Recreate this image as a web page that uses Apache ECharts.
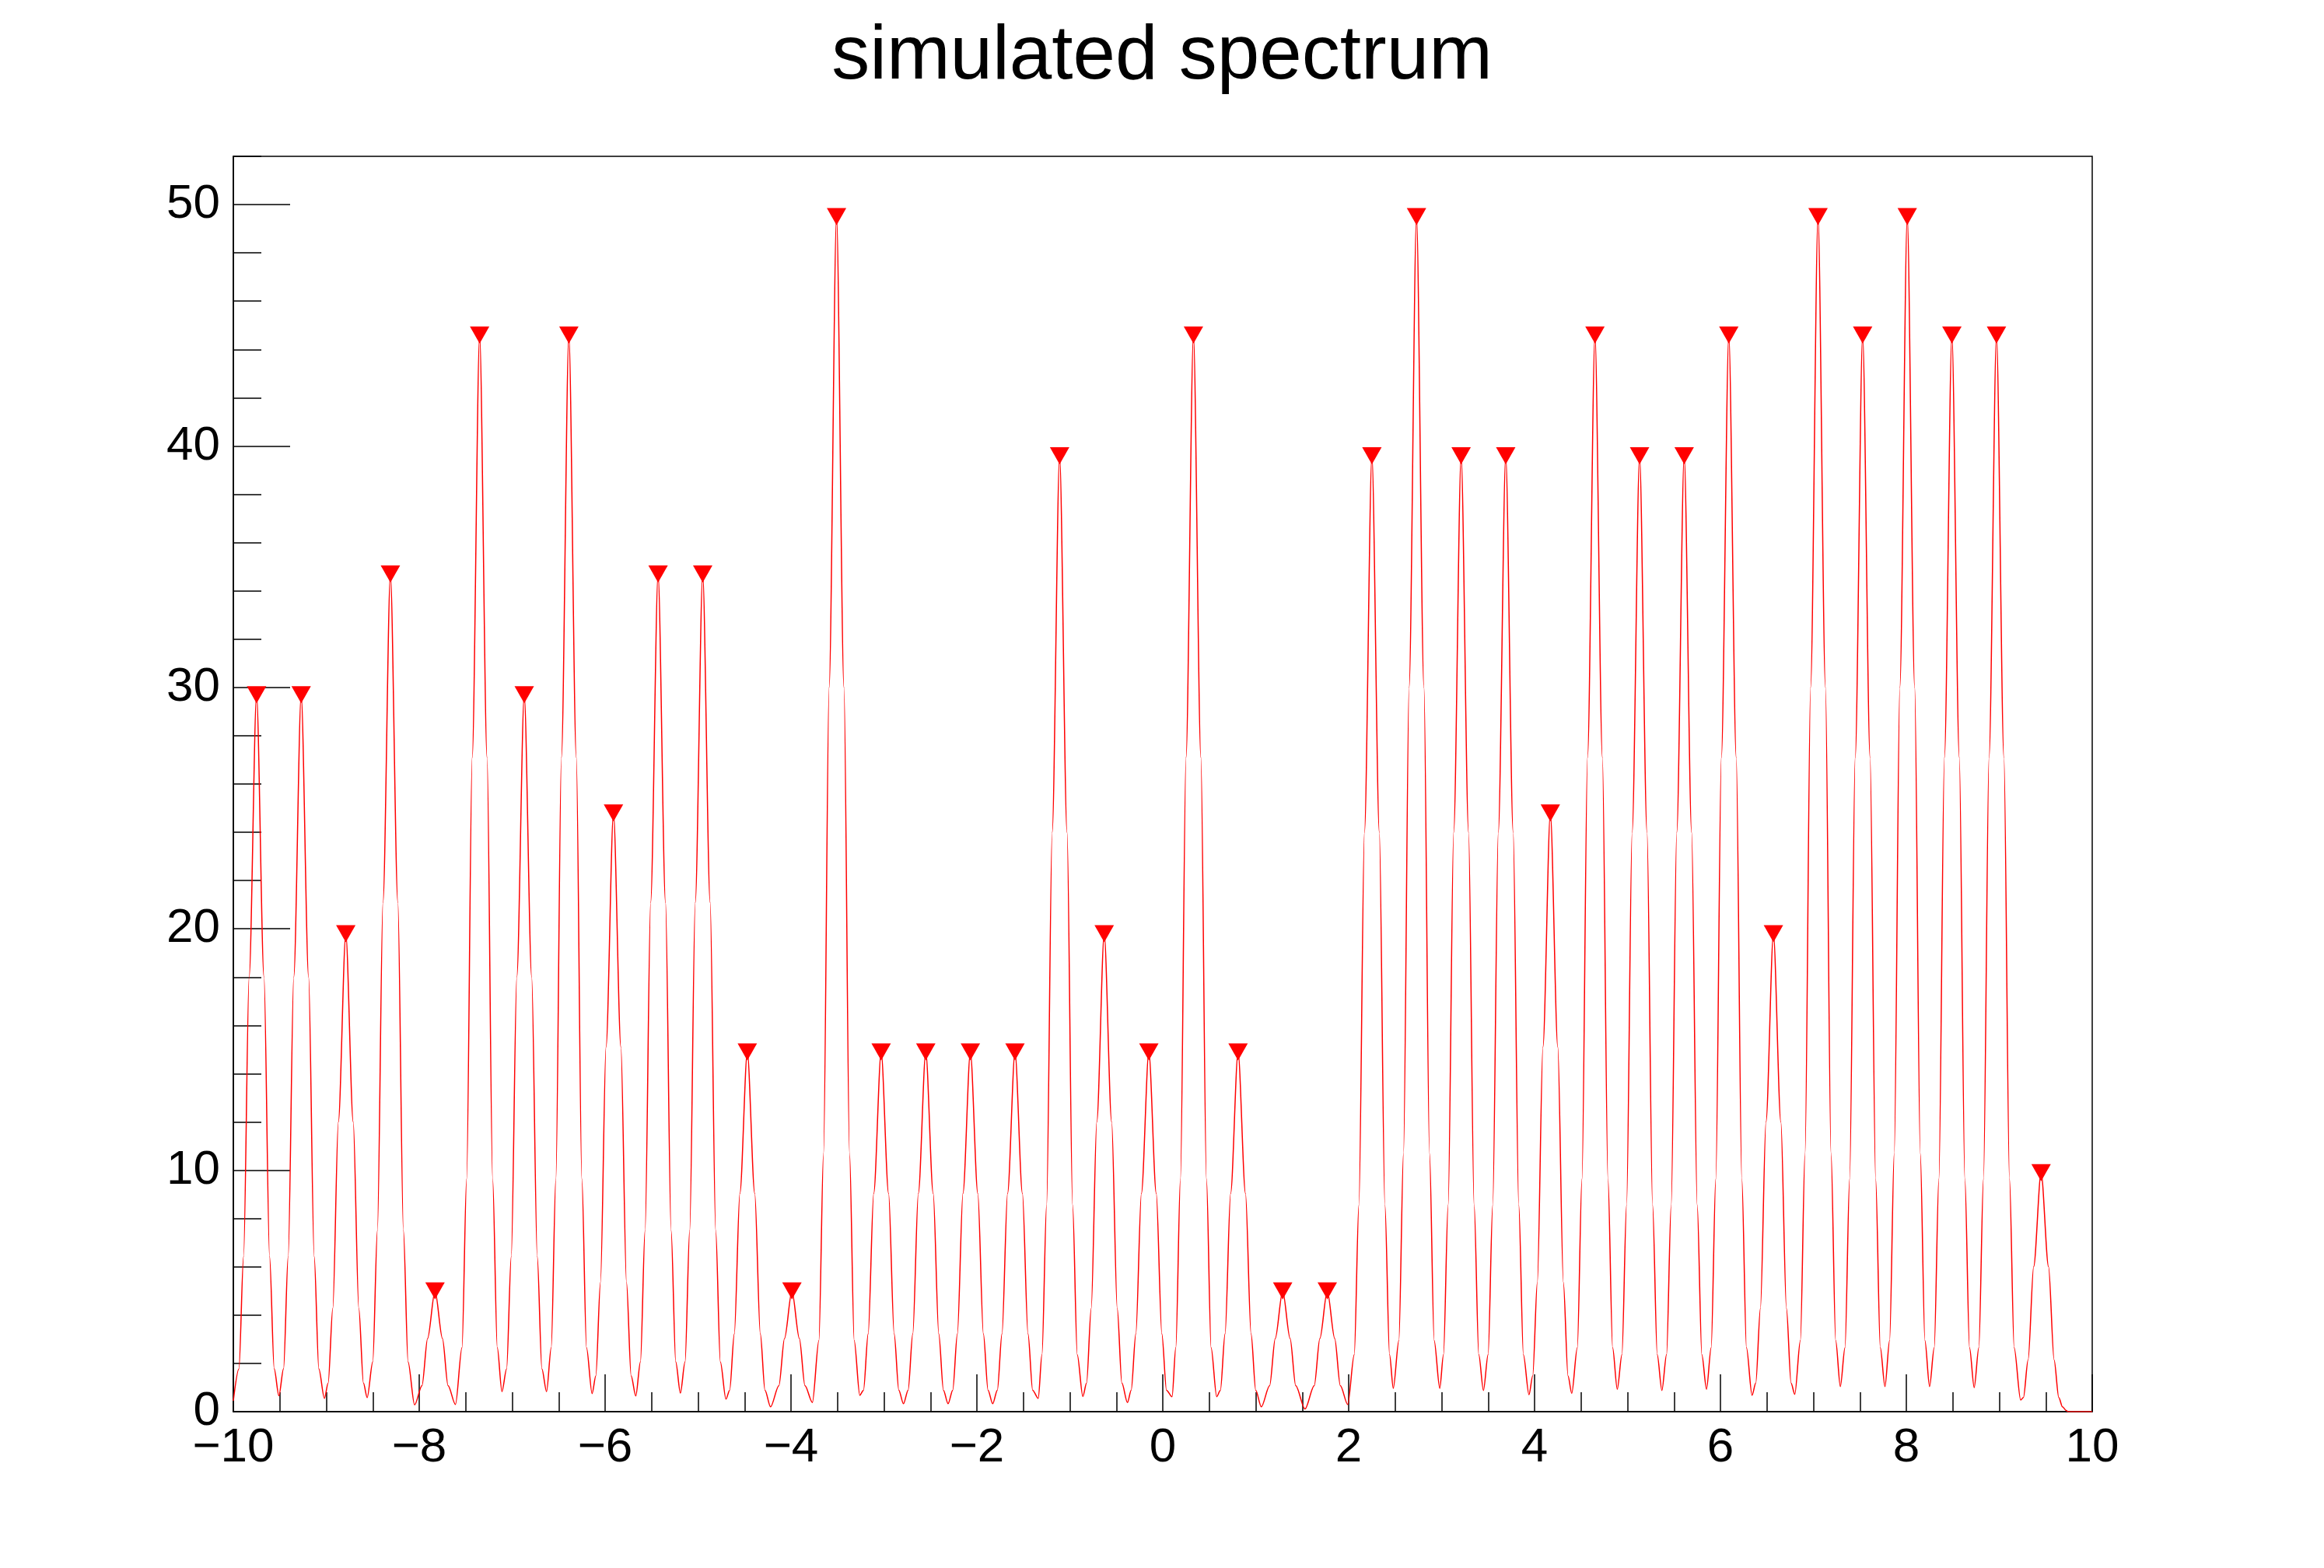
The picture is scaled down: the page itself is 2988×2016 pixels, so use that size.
<!DOCTYPE html>
<html>
<head>
<meta charset="utf-8">
<title>simulated spectrum</title>
<script src="https://cdn.jsdelivr.net/npm/echarts@6.0.0/dist/echarts.min.js"></script>
<style>
  html, body { margin: 0; padding: 0; background: #fff; }
  #chart { width: 2988px; height: 2016px; }
</style>
</head>
<body>
<div id="chart"></div>
<script>
const titleText = 'simulated spectrum'

// axis ranges (ROOT style: y max = 1.05 * highest bin)
const xRange = [-10, 10]
const yRange = [0, 52]
const xMajor = 2
const xMinor = 0.5
const yMajor = 10
const yMinor = 2

// peak positions found by the search (red markers)
const peakX = [
  -9.75, -9.27, -8.79, -8.31, -7.83, -7.35, -6.87, -6.39, -5.91, -5.43,
  -4.95, -4.47, -3.99, -3.51, -3.03, -2.55, -2.07, -1.59, -1.11, -0.63,
  -0.15, 0.33, 0.81, 1.29, 1.77, 2.25, 2.73, 3.21, 3.69, 4.17,
  4.65, 5.13, 5.61, 6.09, 6.57, 7.05, 7.53, 8.01, 8.49, 8.97, 9.45
]
const peakY = [
  29.7, 29.7, 19.8, 34.7, 5.0, 44.6, 29.7, 44.6, 24.8, 34.7,
  34.7, 14.9, 5.0, 49.5, 14.9, 14.9, 14.9, 14.9, 39.6, 19.8,
  14.9, 44.6, 14.9, 5.0, 5.0, 39.6, 49.5, 39.6, 39.6, 24.8,
  44.6, 39.6, 39.6, 44.6, 19.8, 49.5, 44.6, 49.5, 44.6, 44.6, 9.9
]

// spectrum curve vertices [x, counts]
const spectrum = [
  [-10.00, 0.45],
  [-9.94, 1.77], [-9.89, 6.42], [-9.83, 18.0], [-9.75, 29.7], [-9.67, 18.0], [-9.61, 6.42], [-9.56, 1.77], [-9.51, 0.66],
  [-9.46, 1.77], [-9.41, 6.42], [-9.35, 18.0], [-9.27, 29.7], [-9.19, 18.0], [-9.13, 6.42], [-9.08, 1.77], [-9.02, 0.55],
  [-8.98, 1.18], [-8.93, 4.28], [-8.87, 12.0], [-8.79, 19.8], [-8.71, 12.0], [-8.65, 4.28], [-8.60, 1.18], [-8.56, 0.58],
  [-8.50, 2.06], [-8.45, 7.50], [-8.39, 21.1], [-8.31, 34.7], [-8.23, 21.1], [-8.17, 7.50], [-8.12, 2.06], [-8.05, 0.28],
  [-7.97, 1.08], [-7.91, 3.03], [-7.83, 5.0], [-7.75, 3.03], [-7.69, 1.08], [-7.61, 0.30],
  [-7.54, 2.65], [-7.49, 9.63], [-7.43, 27.1], [-7.35, 44.6], [-7.27, 27.1], [-7.21, 9.63], [-7.16, 2.65], [-7.11, 0.83],
  [-7.06, 1.77], [-7.01, 6.42], [-6.95, 18.0], [-6.87, 29.7], [-6.79, 18.0], [-6.73, 6.42], [-6.68, 1.77], [-6.63, 0.83],
  [-6.58, 2.65], [-6.53, 9.63], [-6.47, 27.1], [-6.39, 44.6], [-6.31, 27.1], [-6.25, 9.63], [-6.20, 2.65], [-6.14, 0.75],
  [-6.10, 1.48], [-6.05, 5.36], [-5.99, 15.1], [-5.91, 24.8], [-5.83, 15.1], [-5.77, 5.36], [-5.72, 1.48], [-5.67, 0.65],
  [-5.62, 2.06], [-5.57, 7.50], [-5.51, 21.1], [-5.43, 34.7], [-5.35, 21.1], [-5.29, 7.50], [-5.24, 2.06], [-5.19, 0.77],
  [-5.14, 2.06], [-5.09, 7.50], [-5.03, 21.1], [-4.95, 34.7], [-4.87, 21.1], [-4.81, 7.50], [-4.76, 2.06], [-4.70, 0.52],
  [-4.66, 0.89], [-4.61, 3.22], [-4.55, 9.04], [-4.47, 14.9], [-4.39, 9.04], [-4.33, 3.22], [-4.28, 0.89], [-4.22, 0.20],
  [-4.13, 1.08], [-4.07, 3.03], [-3.99, 5.0], [-3.91, 3.03], [-3.85, 1.08], [-3.77, 0.38],
  [-3.70, 2.95], [-3.65, 10.7], [-3.59, 30.0], [-3.51, 49.5], [-3.43, 30.0], [-3.37, 10.7], [-3.32, 2.95], [-3.26, 0.68],
  [-3.22, 0.89], [-3.17, 3.22], [-3.11, 9.04], [-3.03, 14.9], [-2.95, 9.04], [-2.89, 3.22], [-2.84, 0.89], [-2.79, 0.33],
  [-2.74, 0.89], [-2.69, 3.22], [-2.63, 9.04], [-2.55, 14.9], [-2.47, 9.04], [-2.41, 3.22], [-2.36, 0.89], [-2.31, 0.33],
  [-2.26, 0.89], [-2.21, 3.22], [-2.15, 9.04], [-2.07, 14.9], [-1.99, 9.04], [-1.93, 3.22], [-1.88, 0.89], [-1.83, 0.33],
  [-1.78, 0.89], [-1.73, 3.22], [-1.67, 9.04], [-1.59, 14.9], [-1.51, 9.04], [-1.45, 3.22], [-1.40, 0.89], [-1.34, 0.55],
  [-1.30, 2.36], [-1.25, 8.55], [-1.19, 24.0], [-1.11, 39.6], [-1.03, 24.0], [-0.97, 8.55], [-0.92, 2.36], [-0.86, 0.63],
  [-0.82, 1.18], [-0.77, 4.28], [-0.71, 12.0], [-0.63, 19.8], [-0.55, 12.0], [-0.49, 4.28], [-0.44, 1.18], [-0.38, 0.38],
  [-0.34, 0.89], [-0.29, 3.22], [-0.23, 9.04], [-0.15, 14.9], [-0.07, 9.04], [-0.01, 3.22], [0.04, 0.89], [0.10, 0.62],
  [0.14, 2.65], [0.19, 9.63], [0.25, 27.1], [0.33, 44.6], [0.41, 27.1], [0.47, 9.63], [0.52, 2.65], [0.58, 0.62],
  [0.62, 0.89], [0.67, 3.22], [0.73, 9.04], [0.81, 14.9], [0.89, 9.04], [0.95, 3.22], [1.00, 0.89], [1.06, 0.20],
  [1.15, 1.08], [1.21, 3.03], [1.29, 5.0], [1.37, 3.03], [1.43, 1.08], [1.53, 0.11],
  [1.63, 1.08], [1.69, 3.03], [1.77, 5.0], [1.85, 3.03], [1.91, 1.08], [1.99, 0.30],
  [2.06, 2.36], [2.11, 8.55], [2.17, 24.0], [2.25, 39.6], [2.33, 24.0], [2.39, 8.55], [2.44, 2.36], [2.48, 0.97],
  [2.54, 2.95], [2.59, 10.7], [2.65, 30.0], [2.73, 49.5], [2.81, 30.0], [2.87, 10.7], [2.92, 2.95], [2.98, 0.97],
  [3.02, 2.36], [3.07, 8.55], [3.13, 24.0], [3.21, 39.6], [3.29, 24.0], [3.35, 8.55], [3.40, 2.36], [3.45, 0.88],
  [3.50, 2.36], [3.55, 8.55], [3.61, 24.0], [3.69, 39.6], [3.77, 24.0], [3.83, 8.55], [3.88, 2.36], [3.94, 0.70],
  [3.98, 1.48], [4.03, 5.36], [4.09, 15.1], [4.17, 24.8], [4.25, 15.1], [4.31, 5.36], [4.36, 1.48], [4.40, 0.76],
  [4.46, 2.65], [4.51, 9.63], [4.57, 27.1], [4.65, 44.6], [4.73, 27.1], [4.79, 9.63], [4.84, 2.65], [4.89, 0.93],
  [4.94, 2.36], [4.99, 8.55], [5.05, 24.0], [5.13, 39.6], [5.21, 24.0], [5.27, 8.55], [5.32, 2.36], [5.37, 0.88],
  [5.42, 2.36], [5.47, 8.55], [5.53, 24.0], [5.61, 39.6], [5.69, 24.0], [5.75, 8.55], [5.80, 2.36], [5.85, 0.93],
  [5.90, 2.65], [5.95, 9.63], [6.01, 27.1], [6.09, 44.6], [6.17, 27.1], [6.23, 9.63], [6.28, 2.65], [6.34, 0.68],
  [6.38, 1.18], [6.43, 4.28], [6.49, 12.0], [6.57, 19.8], [6.65, 12.0], [6.71, 4.28], [6.76, 1.18], [6.80, 0.72],
  [6.86, 2.95], [6.91, 10.7], [6.97, 30.0], [7.05, 49.5], [7.13, 30.0], [7.19, 10.7], [7.24, 2.95], [7.29, 1.04],
  [7.34, 2.65], [7.39, 9.63], [7.45, 27.1], [7.53, 44.6], [7.61, 27.1], [7.67, 9.63], [7.72, 2.65], [7.77, 1.04],
  [7.82, 2.95], [7.87, 10.7], [7.93, 30.0], [8.01, 49.5], [8.09, 30.0], [8.15, 10.7], [8.20, 2.95], [8.25, 1.04],
  [8.30, 2.65], [8.35, 9.63], [8.41, 27.1], [8.49, 44.6], [8.57, 27.1], [8.63, 9.63], [8.68, 2.65], [8.73, 1.00],
  [8.78, 2.65], [8.83, 9.63], [8.89, 27.1], [8.97, 44.6], [9.05, 27.1], [9.11, 9.63], [9.16, 2.65], [9.23, 0.48],
  [9.26, 0.59], [9.31, 2.14], [9.37, 6.01], [9.45, 9.9], [9.53, 6.01], [9.59, 2.14], [9.64, 0.59],
  [9.68, 0.20], [9.72, 0.05], [9.74, 0], [10.00, 0]
]

const FONT = 'Liberation Sans'
const minus = (v) => String(v).replace('-', '\u2212')

const chart = echarts.init(document.getElementById('chart'))

const baseAxis = {
  type: 'value',
  splitLine: { show: false },
  axisLine: { onZero: false }
}

chart.setOption({
  animation: false,
  backgroundColor: '#ffffff',
  title: {
    text: titleText,
    left: 'center',
    top: 20,
    textStyle: { fontFamily: FONT, fontSize: 98, fontWeight: 'normal', color: '#000' }
  },
  grid: {
    left: 300, right: 298, top: 201, bottom: 201,
    show: true, borderColor: '#000', borderWidth: 1.5
  },
  xAxis: [
    Object.assign({}, baseAxis, {
      min: xRange[0], max: xRange[1], interval: xMajor, position: 'bottom',
      axisLine: { onZero: false, lineStyle: { color: '#000', width: 1.5 } },
      axisTick: { inside: true, length: 48, lineStyle: { color: '#000', width: 1.5 } },
      axisLabel: { fontFamily: FONT, fontSize: 62, color: '#000', margin: 16, formatter: minus }
    }),
    Object.assign({}, baseAxis, {
      min: xRange[0], max: xRange[1], interval: xMinor, position: 'bottom',
      axisLine: { show: false, onZero: false },
      axisTick: { inside: true, length: 25, lineStyle: { color: '#000', width: 1.5 } },
      axisLabel: { show: false }
    })
  ],
  yAxis: [
    Object.assign({}, baseAxis, {
      min: yRange[0], max: yRange[1], interval: yMajor, position: 'left',
      axisLine: { show: true, onZero: false, lineStyle: { color: '#000', width: 1.5 } },
      axisTick: { inside: true, length: 73, lineStyle: { color: '#000', width: 1.5 } },
      axisLabel: { fontFamily: FONT, fontSize: 62, color: '#000', margin: 17, showMaxLabel: false }
    }),
    Object.assign({}, baseAxis, {
      min: yRange[0], max: yRange[1], interval: yMinor, position: 'left',
      axisLine: { show: false, onZero: false },
      axisTick: { inside: true, length: 36, lineStyle: { color: '#000', width: 1.5 } },
      axisLabel: { show: false }
    })
  ],
  series: [
    {
      name: 'spectrum',
      type: 'line',
      data: spectrum,
      showSymbol: false,
      symbol: 'none',
      smooth: 0.3,
      smoothMonotone: 'x',
      lineStyle: { color: '#ff0000', width: 1.5 },
      silent: true
    },
    {
      name: 'peaks',
      type: 'scatter',
      data: peakX.map((x, i) => [x, peakY[i]]),
      symbol: 'triangle',
      symbolRotate: 180,
      symbolSize: [25, 22],
      itemStyle: { color: '#ff0000', opacity: 1 },
      silent: true
    }
  ]
})
</script>
</body>
</html>
